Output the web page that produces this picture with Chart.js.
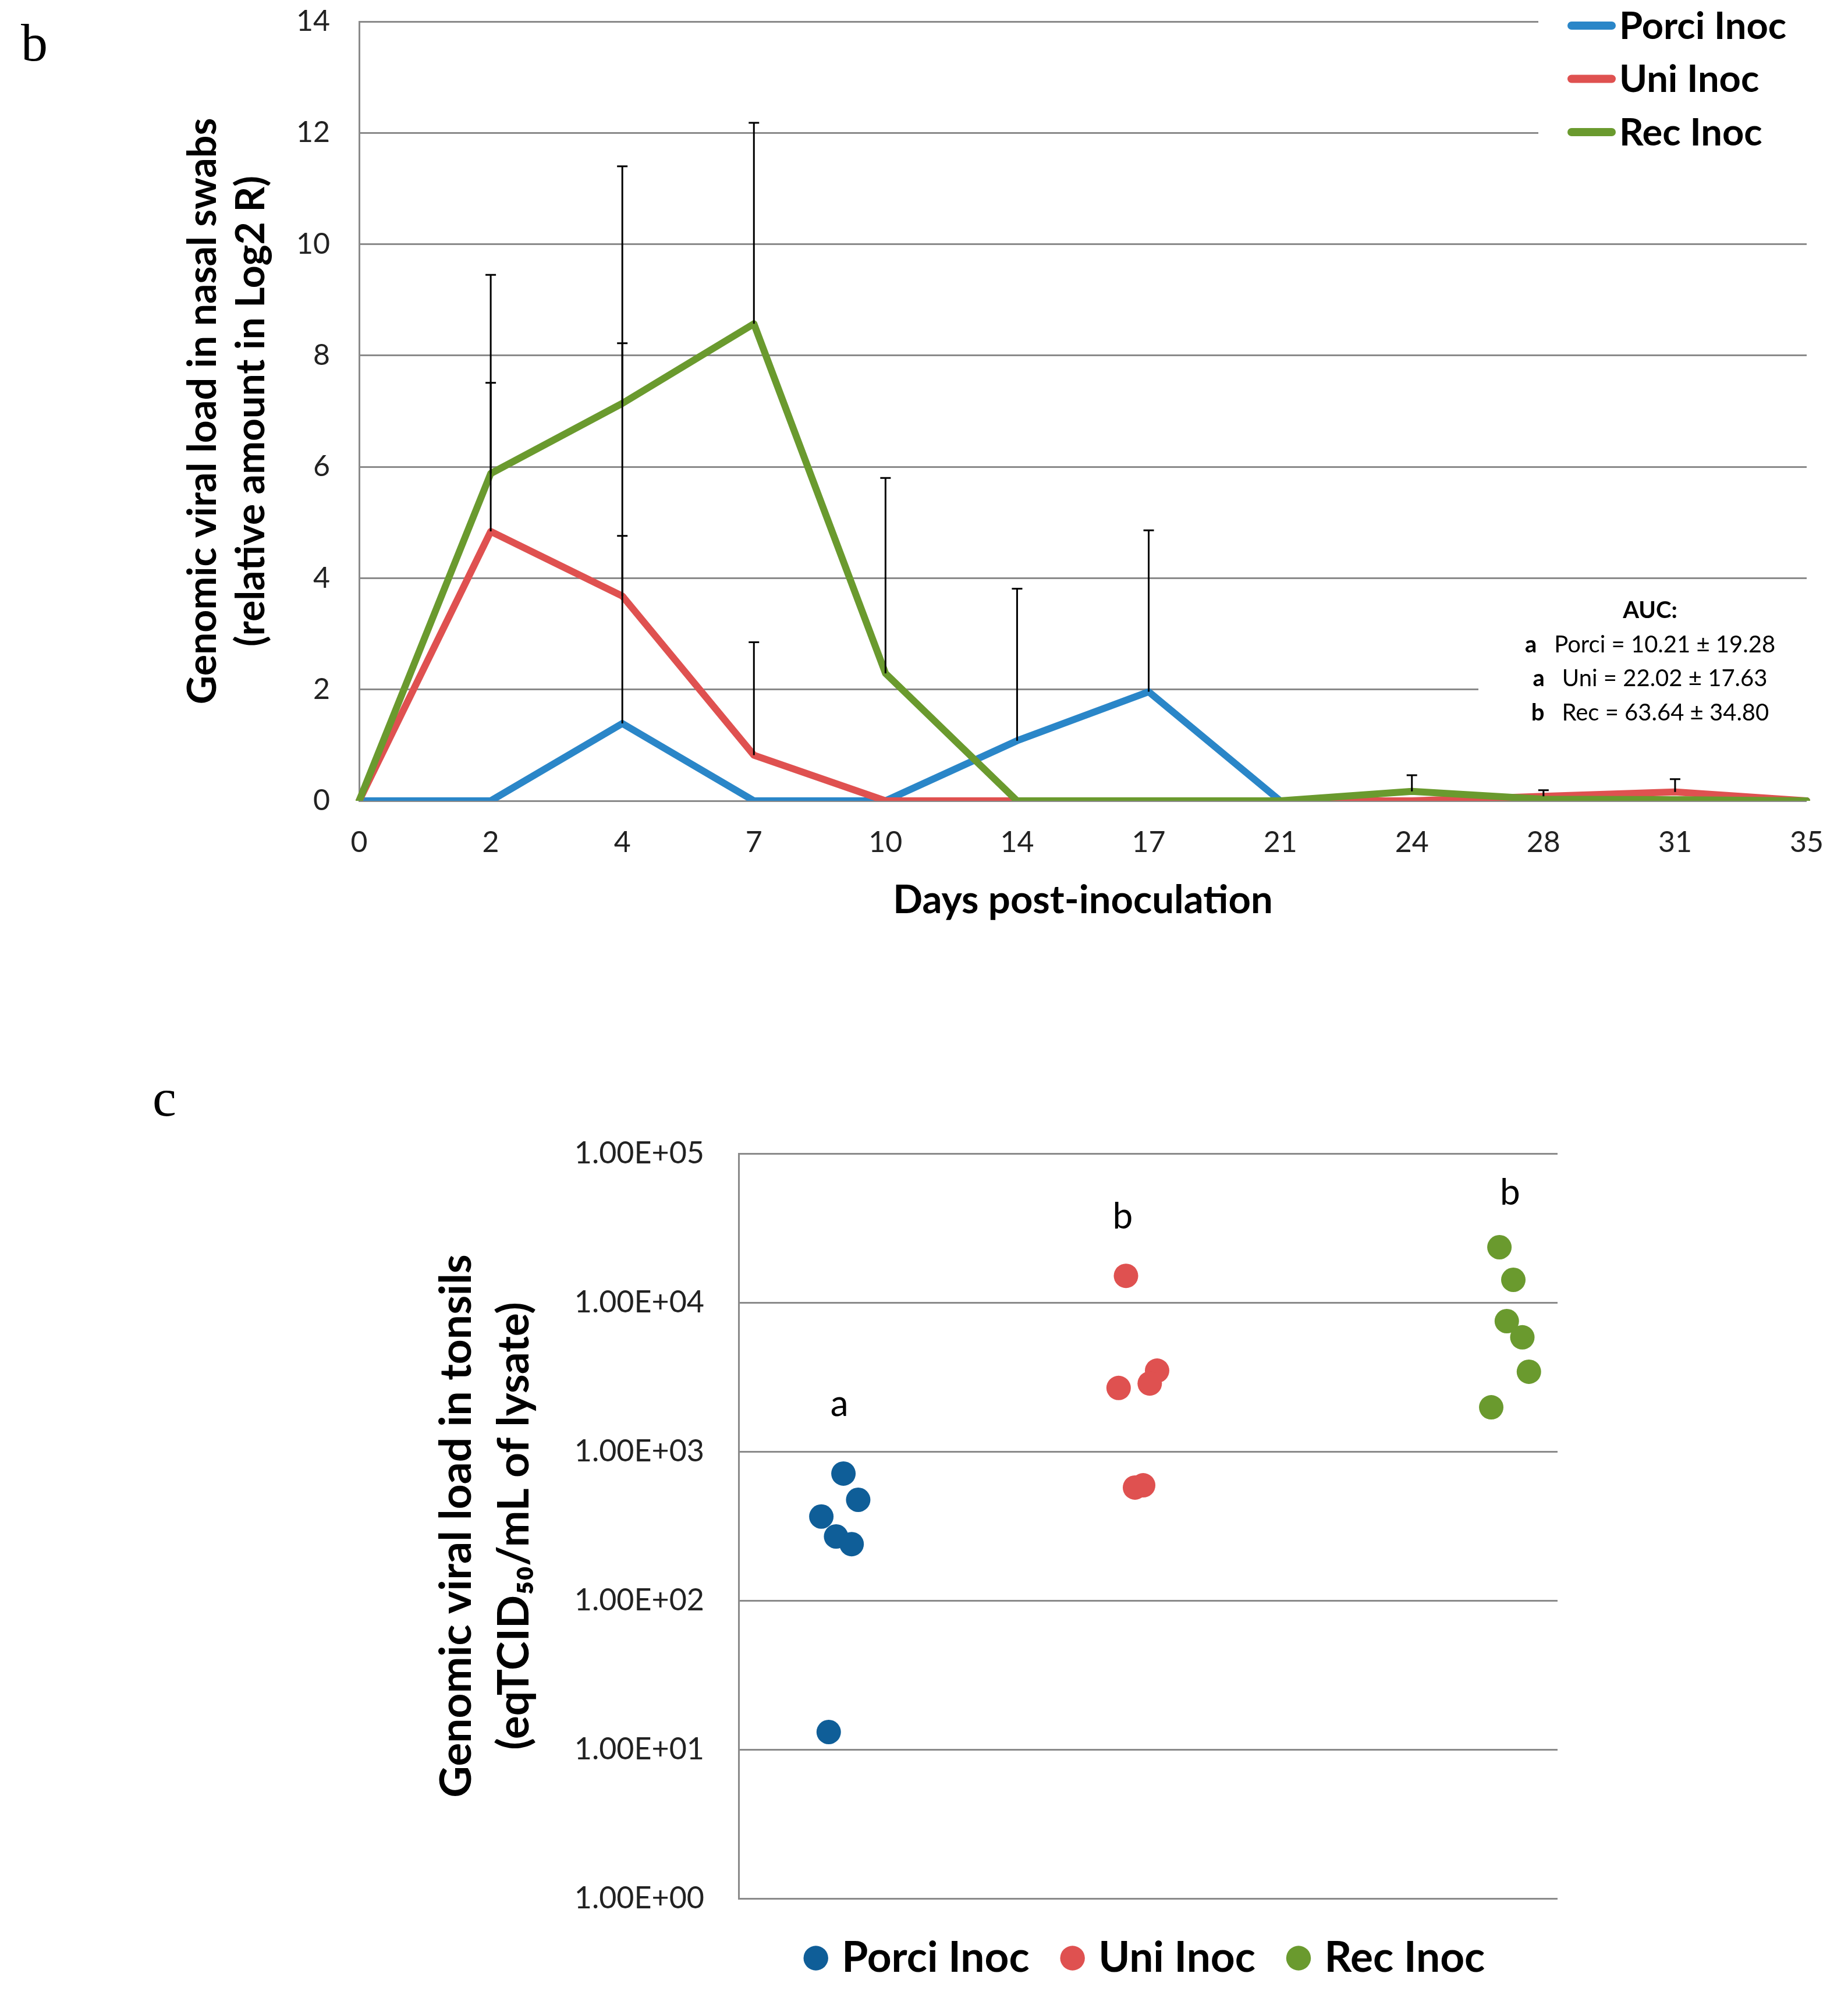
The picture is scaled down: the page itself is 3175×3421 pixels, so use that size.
<!DOCTYPE html>
<html>
<head>
<meta charset="utf-8">
<script src="https://cdn.jsdelivr.net/npm/chart.js@4.4.1/dist/chart.umd.min.js"></script>
<style>
  html, body { margin: 0; padding: 0; background: #fff; }
  body { width: 3175px; height: 3421px; position: relative; overflow: hidden; }
  .panel { position: absolute; left: 0; width: 3175px; }
  #wrapB { top: 0; height: 1700px; }
  #wrapC { top: 1700px; height: 1721px; }
  .tag { position: absolute; font-family: "Liberation Serif", serif; font-size: 92px; line-height: 1; color: #000; }
</style>
</head>
<body>
<div class="panel" id="wrapB"><canvas id="chartB"></canvas></div>
<div class="panel" id="wrapC"><canvas id="chartC"></canvas></div>
<div class="tag" style="left:36px; top:27px;">b</div>
<div class="tag" style="left:262px; top:1840px;">c</div>
<script>
// panel b: nasal swabs, mean log2 R per sampling day
const days = ['0', '2', '4', '7', '10', '14', '17', '21', '24', '28', '31', '35'];
const seriesNames = ['Porci Inoc', 'Uni Inoc', 'Rec Inoc'];
const porciLoad = [0, 0, 1.39, 0, 0, 1.08, 1.96, 0, 0, 0, 0, 0];
const uniLoad = [0, 4.84, 3.68, 0.82, 0, 0, 0, 0, 0, 0.08, 0.16, 0];
const recLoad = [0, 5.88, 7.14, 8.57, 2.29, 0, 0, 0, 0.17, 0.03, 0.02, 0];
// upper error bars (SD)
const porciErr = [0, 0, 3.37, 0, 0, 2.73, 2.9, 0, 0, 0, 0, 0];
const uniErr = [0, 2.67, 4.54, 2.03, 0, 0, 0, 0, 0, 0.11, 0.23, 0];
const recErr = [0, 3.57, 4.26, 3.61, 3.51, 0, 0, 0, 0.29, 0, 0, 0];
const aucGroups = ['a', 'a', 'b'];
const aucText = ['Porci = 10.21 \u00b1 19.28', 'Uni = 22.02 \u00b1 17.63', 'Rec = 63.64 \u00b1 34.80'];

// panel c: tonsils, individual animals
const groupsC = ['Porci Inoc', 'Uni Inoc', 'Rec Inoc'];
const porciX = [12.8, 14.6, 10.1, 11.9, 13.8, 11.0];
const porciTonsil = [711, 474, 366, 269, 239, 13.1];
const uniX = [47.3, 51.1, 50.2, 46.4, 49.4, 48.4];
const uniTonsil = [15100, 3490, 2860, 2670, 593, 573];
const recX = [92.9, 94.6, 93.8, 95.7, 96.5, 91.9];
const recTonsil = [23500, 14200, 7500, 5840, 3430, 1980];
const sigLetters = ['a', 'b', 'b'];
const sigX = [12.3, 46.9, 94.2];
const sigY = [1730, 31300, 45300];
const yTicksC = [1, 10, 100, 1000, 10000, 100000];
const yTickLabelsC = ['1.00E+00', '1.00E+01', '1.00E+02', '1.00E+03', '1.00E+04', '1.00E+05'];

const gridGray = '#8a8a8a';
const lineColors = ['#2A86C8', '#DF5150', '#6A9A2E'];
const dotColors = ['#0F5E98', '#DF5150', '#6A9A2E'];

const errorBars = {
    id: 'errorBars',
    afterDatasetsDraw(chart) {
        const {ctx, scales: {x, y}} = chart;
        ctx.save();
        ctx.strokeStyle = '#000';
        ctx.lineWidth = 3;
        chart.data.datasets.forEach(ds => {
            ds.errUp.forEach((e, i) => {
                if (!e) return;
                const px = x.getPixelForValue(i);
                const y0 = y.getPixelForValue(ds.data[i]);
                const y1 = y.getPixelForValue(ds.data[i] + e);
                ctx.beginPath();
                ctx.moveTo(px, y0);
                ctx.lineTo(px, y1);
                ctx.moveTo(px - 9, y1);
                ctx.lineTo(px + 9, y1);
                ctx.stroke();
            });
        });
        ctx.restore();
    }
};

// white boxes over the grid for the legend and the AUC note, like the original
const overlayB = {
    id: 'overlayB',
    beforeDatasetsDraw(chart) {
        const ctx = chart.ctx;
        ctx.save();
        ctx.fillStyle = '#fff';
        ctx.fillRect(2643, 0, 540, 330);
        ctx.fillRect(2540, 1010, 640, 260);
        ctx.restore();
    },
    afterDraw(chart) {
        const ctx = chart.ctx;
        ctx.save();
        ctx.textBaseline = 'middle';
        ctx.textAlign = 'left';
        ctx.font = 'bold 65px Lato';
        chart.data.datasets.forEach((ds, i) => {
            const yy = 44 + i * 91.5;
            ctx.strokeStyle = ds.borderColor;
            ctx.lineWidth = 14;
            ctx.lineCap = 'round';
            ctx.beginPath();
            ctx.moveTo(2700, yy);
            ctx.lineTo(2769, yy);
            ctx.stroke();
            ctx.fillStyle = '#000';
            ctx.fillText(ds.label, 2782, yy + 2);
        });
        ctx.textAlign = 'center';
        ctx.font = 'bold 40px Lato';
        ctx.fillText('AUC:', 2835, 1049);
        aucText.forEach((t, i) => {
            const yy = 1108 + i * 58.5;
            ctx.font = 'bold 40px Lato';
            const wl = ctx.measureText(aucGroups[i]).width;
            ctx.font = '40px Lato';
            const wt = ctx.measureText(t).width;
            const x0 = 2835 - (wl + 30 + wt) / 2;
            ctx.textAlign = 'left';
            ctx.font = 'bold 40px Lato';
            ctx.fillText(aucGroups[i], x0, yy);
            ctx.font = '40px Lato';
            ctx.fillText(t, x0 + wl + 30, yy);
        });
        ctx.restore();
    }
};

const sigLabels = {
    id: 'sigLabels',
    afterDatasetsDraw(chart) {
        const {ctx, scales: {x, y}} = chart;
        ctx.save();
        ctx.font = '62px Lato';
        ctx.fillStyle = '#000';
        ctx.textAlign = 'center';
        ctx.textBaseline = 'alphabetic';
        sigLetters.forEach((t, i) => {
            ctx.fillText(t, x.getPixelForValue(sigX[i]), y.getPixelForValue(sigY[i]));
        });
        ctx.restore();
    }
};

document.addEventListener('DOMContentLoaded', function() {
    const loads = [porciLoad, uniLoad, recLoad];
    const errs = [porciErr, uniErr, recErr];

    new Chart(document.getElementById('chartB'), {
        type: 'line',
        data: {
            labels: days,
            datasets: seriesNames.map((name, i) => ({
                label: name,
                data: loads[i],
                errUp: errs[i],
                borderColor: lineColors[i],
                backgroundColor: lineColors[i],
                order: 3 - i
            }))
        },
        options: {
            responsive: true,
            maintainAspectRatio: false,
            animation: false,
            layout: { padding: { left: 308, right: 63, top: 37, bottom: 0 } },
            elements: {
                line: { borderWidth: 12, tension: 0, borderJoinStyle: 'round', borderCapStyle: 'round' },
                point: { radius: 0 }
            },
            plugins: { legend: { display: false }, tooltip: { enabled: false } },
            scales: {
                x: {
                    offset: false,
                    grid: { display: false, drawTicks: false },
                    border: { display: true, color: gridGray, width: 3 },
                    ticks: { padding: 42, autoSkip: false, maxRotation: 0, color: '#222', font: { family: 'Lato', size: 50 } },
                    title: {
                        display: true,
                        text: 'Days post-inoculation',
                        color: '#000',
                        font: { family: 'Lato', size: 67, weight: 'bold' },
                        padding: { top: 0, bottom: 112 }
                    },
                    afterFit(s) { s.height = 324; }
                },
                y: {
                    min: 0,
                    max: 14,
                    grid: { color: gridGray, lineWidth: 3, drawTicks: false },
                    border: { display: true, color: gridGray, width: 3 },
                    ticks: { stepSize: 2, padding: 50, color: '#222', font: { family: 'Lato', size: 50 } },
                    title: {
                        display: true,
                        text: ['Genomic viral load in nasal swabs', '(relative amount in Log2 R)'],
                        color: '#000',
                        font: { family: 'Lato', size: 68, weight: 'bold', lineHeight: 1.22 },
                        padding: 0
                    },
                    afterFit(s) {
                        s.width = 309;
                        s.paddingTop = 0;
                        s.paddingBottom = 0;
                    }
                }
            }
        },
        plugins: [errorBars, overlayB]
    });

    const xs = [porciX, uniX, recX];
    const ys = [porciTonsil, uniTonsil, recTonsil];

    new Chart(document.getElementById('chartC'), {
        type: 'scatter',
        data: {
            datasets: groupsC.map((name, i) => ({
                label: name,
                data: xs[i].map((x, j) => ({ x: x, y: ys[i][j] })),
                backgroundColor: dotColors[i],
                borderColor: dotColors[i],
                borderWidth: 0
            }))
        },
        options: {
            responsive: true,
            maintainAspectRatio: false,
            animation: false,
            layout: { padding: { left: 736, right: 499, top: 282, bottom: 10 } },
            elements: { point: { radius: 21, borderWidth: 0 } },
            plugins: {
                tooltip: { enabled: false },
                legend: {
                    position: 'bottom',
                    fullSize: false,
                    labels: {
                        usePointStyle: true,
                        pointStyle: 'circle',
                        boxWidth: 16,
                        boxHeight: 30,
                        padding: 66,
                        color: '#000',
                        font: { family: 'Lato', size: 73, weight: 'bold' }
                    }
                }
            },
            scales: {
                x: { type: 'linear', display: false, min: 0, max: 100 },
                y: {
                    type: 'logarithmic',
                    min: 1,
                    max: 100000,
                    afterBuildTicks(s) { s.ticks = yTicksC.map(v => ({ value: v })); },
                    grid: { color: gridGray, lineWidth: 3, drawTicks: false },
                    border: { display: true, color: gridGray, width: 3 },
                    ticks: {
                        padding: 59,
                        color: '#222',
                        font: { family: 'Lato', size: 52 },
                        callback: v => yTickLabelsC[yTicksC.indexOf(v)]
                    },
                    title: {
                        display: true,
                        text: ['Genomic viral load in tonsils', '(eqTCID\u2085\u2080/mL of lysate)'],
                        color: '#000',
                        font: { family: 'Lato', size: 75, weight: 'bold', lineHeight: 1.31 },
                        padding: 0
                    },
                    afterFit(s) { s.width = 533; }
                }
            }
        },
        plugins: [sigLabels]
    });
});
</script>
</body>
</html>
